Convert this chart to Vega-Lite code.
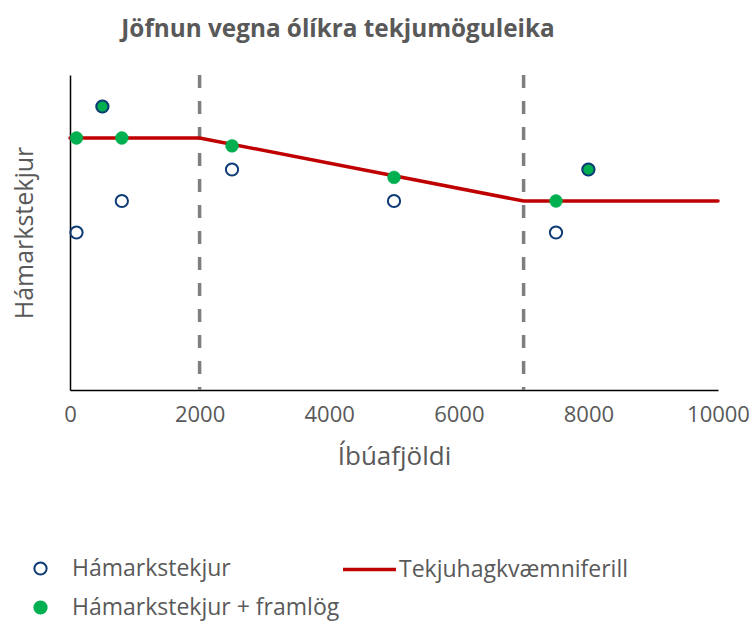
{
  "$schema": "https://vega.github.io/schema/vega-lite/v6.json",
  "width": 648,
  "height": 315,
  "autosize": {"type": "none"},
  "padding": {"left": 70, "top": 75, "right": 34, "bottom": 233},
  "background": "white",
  "config": {
    "view": {"stroke": null},
    "font": "Open Sans",
    "legend": {"padding": 0, "labelLimit": 0}
  },
  "title": {
    "text": "Jöfnun vegna ólíkra tekjumöguleika",
    "fontSize": 24.3,
    "fontWeight": "bold",
    "color": "#595959",
    "anchor": "middle",
    "dx": -56,
    "offset": 31,
    "font": "Open Sans"
  },
  "datasets": {
    "main": [
      {"series": "Hámarkstekjur", "x": 100, "y": 5},
      {"series": "Hámarkstekjur", "x": 500, "y": 9},
      {"series": "Hámarkstekjur", "x": 800, "y": 6},
      {"series": "Hámarkstekjur", "x": 2500, "y": 7},
      {"series": "Hámarkstekjur", "x": 5000, "y": 6},
      {"series": "Hámarkstekjur", "x": 7500, "y": 5},
      {"series": "Hámarkstekjur", "x": 8000, "y": 7},
      {"series": "Hámarkstekjur + framlög", "x": 100, "y": 8},
      {"series": "Hámarkstekjur + framlög", "x": 500, "y": 9},
      {"series": "Hámarkstekjur + framlög", "x": 800, "y": 8},
      {"series": "Hámarkstekjur + framlög", "x": 2500, "y": 7.75},
      {"series": "Hámarkstekjur + framlög", "x": 5000, "y": 6.75},
      {"series": "Hámarkstekjur + framlög", "x": 7500, "y": 6},
      {"series": "Hámarkstekjur + framlög", "x": 8000, "y": 7},
      {"series": "Tekjuhagkvæmniferill", "x": 0, "y": 8},
      {"series": "Tekjuhagkvæmniferill", "x": 2000, "y": 8},
      {"series": "Tekjuhagkvæmniferill", "x": 7000, "y": 6},
      {"series": "Tekjuhagkvæmniferill", "x": 10000, "y": 6}
    ],
    "markers": [{"x": 2000}, {"x": 7000}]
  },
  "encoding": {
    "x": {
      "field": "x",
      "type": "quantitative",
      "scale": {"domain": [0, 10000], "nice": false, "zero": false},
      "axis": {
        "title": "Íbúafjöldi",
        "values": [0, 2000, 4000, 6000, 8000, 10000],
        "format": "d",
        "grid": false,
        "ticks": false,
        "domainColor": "#000000",
        "domainWidth": 1.5,
        "labelFontSize": 22,
        "labelColor": "#595959",
        "labelPadding": 14,
        "labelFlush": false,
        "titleFontSize": 26,
        "titleFontWeight": "normal",
        "titleColor": "#595959",
        "titlePadding": 18
      }
    }
  },
  "layer": [
    {
      "data": {"name": "markers"},
      "mark": {"type": "rule", "color": "#7f7f7f", "strokeWidth": 3.5, "strokeDash": [13, 13]},
      "encoding": {}
    },
    {
      "data": {"name": "main"},
      "transform": [{"filter": "datum.series === 'Tekjuhagkvæmniferill'"}],
      "mark": {"type": "line", "strokeWidth": 3.5, "strokeCap": "round"},
      "encoding": {
        "y": {
          "field": "y",
          "type": "quantitative",
          "scale": {"domain": [0, 10], "nice": false},
          "axis": {
            "title": "Hámarkstekjur",
            "labels": false,
            "ticks": false,
            "grid": false,
            "domainColor": "#000000",
            "domainWidth": 1.5,
            "titleFontSize": 25,
            "titleFontWeight": "normal",
            "titleColor": "#595959",
            "titlePadding": 33
          }
        },
        "color": {
          "field": "series",
          "type": "nominal",
          "scale": {"domain": ["Tekjuhagkvæmniferill"], "range": ["#c00000"]},
          "legend": {
            "title": null,
            "orient": "none",
            "legendX": 271,
            "legendY": 466,
            "symbolType": "stroke",
            "symbolSize": 2809,
            "symbolStrokeWidth": 3.5,
            "labelOffset": 1,
            "labelFontSize": 23,
            "labelColor": "#595959"
          }
        }
      }
    },
    {
      "data": {"name": "main"},
      "transform": [{"filter": "datum.series === 'Hámarkstekjur + framlög'"}],
      "mark": {"type": "point", "shape": "circle", "size": 165, "opacity": 1, "strokeWidth": 0.5},
      "encoding": {
        "y": {"field": "y", "type": "quantitative"},
        "stroke": {
          "field": "series",
          "type": "nominal",
          "scale": {"domain": ["Hámarkstekjur", "Hámarkstekjur + framlög"], "range": ["#0e3b75", "#00b050"]},
          "legend": {
            "title": null,
            "orient": "none",
            "legendX": -41,
            "legendY": 482,
            "direction": "vertical",
            "symbolType": "circle",
            "symbolSize": 150,
            "symbolStrokeWidth": 2,
            "labelOffset": 20,
            "rowPadding": 15,
            "labelFontSize": 23,
            "labelColor": "#595959"
          }
        },
        "fill": {
          "field": "series",
          "type": "nominal",
          "scale": {"domain": ["Hámarkstekjur", "Hámarkstekjur + framlög"], "range": ["transparent", "#00b050"]},
          "legend": {
            "title": null,
            "orient": "none",
            "legendX": -41,
            "legendY": 482,
            "direction": "vertical",
            "symbolType": "circle",
            "symbolSize": 150,
            "symbolStrokeWidth": 2,
            "labelOffset": 20,
            "rowPadding": 15,
            "labelFontSize": 23,
            "labelColor": "#595959"
          }
        }
      }
    },
    {
      "data": {"name": "main"},
      "transform": [{"filter": "datum.series === 'Hámarkstekjur'"}],
      "mark": {"type": "point", "shape": "circle", "size": 150, "opacity": 1, "strokeWidth": 2},
      "encoding": {
        "y": {"field": "y", "type": "quantitative"},
        "stroke": {"field": "series", "type": "nominal"},
        "fill": {"field": "series", "type": "nominal"}
      }
    }
  ]
}
